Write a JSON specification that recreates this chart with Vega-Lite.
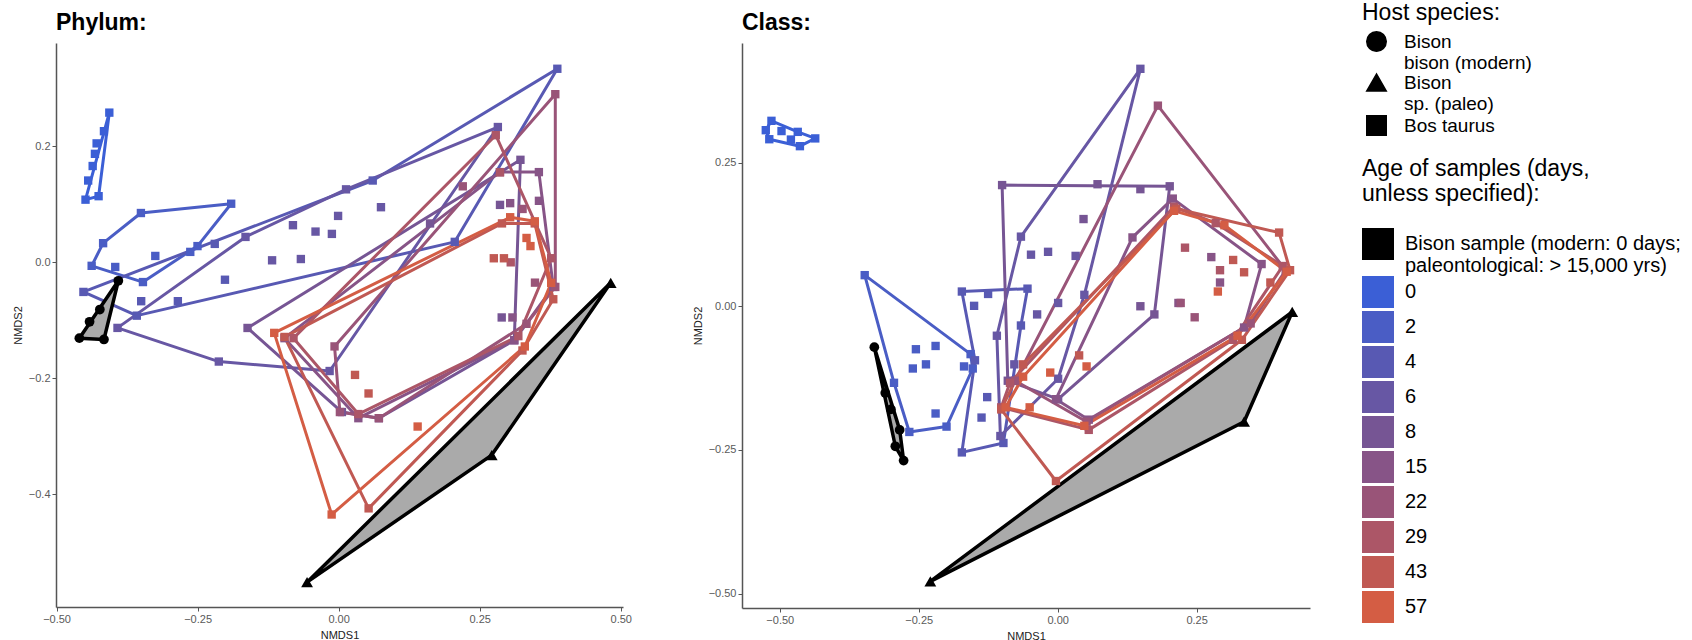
{
"$schema": "https://vega.github.io/schema/vega-lite/v6.json",
"padding": {"left": 12, "top": 2, "right": 2, "bottom": 5},
"background": "white",
"datasets": {
"pts": [
{"panel":"Phylum","age":"0","host":"Bos taurus","x":-0.4065,"y":0.258,"v":1},
{"panel":"Phylum","age":"0","host":"Bos taurus","x":-0.4487,"y":0.108,"v":2},
{"panel":"Phylum","age":"0","host":"Bos taurus","x":-0.4255,"y":0.114,"v":3},
{"panel":"Phylum","age":"0","host":"Bos taurus","x":-0.416,"y":0.226},
{"panel":"Phylum","age":"0","host":"Bos taurus","x":-0.429,"y":0.205},
{"panel":"Phylum","age":"0","host":"Bos taurus","x":-0.432,"y":0.187},
{"panel":"Phylum","age":"0","host":"Bos taurus","x":-0.436,"y":0.166},
{"panel":"Phylum","age":"0","host":"Bos taurus","x":-0.444,"y":0.141},
{"panel":"Phylum","age":"2","host":"Bos taurus","x":-0.1905,"y":0.101,"v":1},
{"panel":"Phylum","age":"2","host":"Bos taurus","x":-0.3505,"y":0.085,"v":2},
{"panel":"Phylum","age":"2","host":"Bos taurus","x":-0.4175,"y":0.033,"v":3},
{"panel":"Phylum","age":"2","host":"Bos taurus","x":-0.4378,"y":-0.006,"v":4},
{"panel":"Phylum","age":"2","host":"Bos taurus","x":-0.3469,"y":-0.034,"v":5},
{"panel":"Phylum","age":"2","host":"Bos taurus","x":-0.2502,"y":0.028,"v":6},
{"panel":"Phylum","age":"2","host":"Bos taurus","x":-0.325,"y":0.011},
{"panel":"Phylum","age":"2","host":"Bos taurus","x":-0.263,"y":0.018},
{"panel":"Phylum","age":"2","host":"Bos taurus","x":-0.396,"y":-0.008},
{"panel":"Phylum","age":"4","host":"Bos taurus","x":-0.4524,"y":-0.051,"v":1},
{"panel":"Phylum","age":"4","host":"Bos taurus","x":0.0604,"y":0.141,"v":2},
{"panel":"Phylum","age":"4","host":"Bos taurus","x":0.3876,"y":0.3336,"v":3},
{"panel":"Phylum","age":"4","host":"Bos taurus","x":0.2058,"y":0.0353,"v":4},
{"panel":"Phylum","age":"4","host":"Bos taurus","x":-0.3578,"y":-0.0919,"v":5},
{"panel":"Phylum","age":"4","host":"Bos taurus","x":-0.2196,"y":0.0318},
{"panel":"Phylum","age":"4","host":"Bos taurus","x":-0.2015,"y":-0.03},
{"panel":"Phylum","age":"4","host":"Bos taurus","x":-0.285,"y":-0.067},
{"panel":"Phylum","age":"4","host":"Bos taurus","x":-0.35,"y":-0.067},
{"panel":"Phylum","age":"6","host":"Bos taurus","x":-0.392,"y":-0.113,"v":1},
{"panel":"Phylum","age":"6","host":"Bos taurus","x":-0.1651,"y":0.0438,"v":2},
{"panel":"Phylum","age":"6","host":"Bos taurus","x":0.0131,"y":0.1258,"v":3},
{"panel":"Phylum","age":"6","host":"Bos taurus","x":0.2822,"y":0.2332,"v":4},
{"panel":"Phylum","age":"6","host":"Bos taurus","x":-0.016,"y":-0.1873,"v":5},
{"panel":"Phylum","age":"6","host":"Bos taurus","x":-0.2124,"y":-0.171,"v":6},
{"panel":"Phylum","age":"6","host":"Bos taurus","x":-0.118,"y":0.0035},
{"panel":"Phylum","age":"6","host":"Bos taurus","x":-0.067,"y":0.0057},
{"panel":"Phylum","age":"6","host":"Bos taurus","x":-0.041,"y":0.053},
{"panel":"Phylum","age":"6","host":"Bos taurus","x":-0.012,"y":0.049},
{"panel":"Phylum","age":"6","host":"Bos taurus","x":-0.001,"y":0.08},
{"panel":"Phylum","age":"6","host":"Bos taurus","x":0.075,"y":0.095},
{"panel":"Phylum","age":"6","host":"Bos taurus","x":-0.081,"y":0.064},
{"panel":"Phylum","age":"8","host":"Bos taurus","x":-0.1615,"y":-0.1131,"v":1},
{"panel":"Phylum","age":"8","host":"Bos taurus","x":0.3222,"y":0.1767,"v":2},
{"panel":"Phylum","age":"8","host":"Bos taurus","x":0.3113,"y":-0.1343,"v":3},
{"panel":"Phylum","age":"8","host":"Bos taurus","x":0.0713,"y":-0.2686,"v":4},
{"panel":"Phylum","age":"8","host":"Bos taurus","x":0.0058,"y":-0.258,"v":5},
{"panel":"Phylum","age":"8","host":"Bos taurus","x":0.162,"y":0.067},
{"panel":"Phylum","age":"8","host":"Bos taurus","x":0.286,"y":0.099},
{"panel":"Phylum","age":"8","host":"Bos taurus","x":0.289,"y":-0.095},
{"panel":"Phylum","age":"15","host":"Bos taurus","x":-0.096,"y":-0.1307,"v":1},
{"panel":"Phylum","age":"15","host":"Bos taurus","x":0.2858,"y":0.1555,"v":2},
{"panel":"Phylum","age":"15","host":"Bos taurus","x":0.3549,"y":0.1555,"v":3},
{"panel":"Phylum","age":"15","host":"Bos taurus","x":0.3804,"y":-0.0424,"v":4},
{"panel":"Phylum","age":"15","host":"Bos taurus","x":0.3113,"y":-0.1343,"v":5},
{"panel":"Phylum","age":"15","host":"Bos taurus","x":0.0349,"y":-0.2686,"v":6},
{"panel":"Phylum","age":"15","host":"Bos taurus","x":0.304,"y":0.102},
{"panel":"Phylum","age":"15","host":"Bos taurus","x":0.355,"y":0.106},
{"panel":"Phylum","age":"15","host":"Bos taurus","x":0.308,"y":-0.095},
{"panel":"Phylum","age":"22","host":"Bos taurus","x":-0.0073,"y":-0.1449,"v":1},
{"panel":"Phylum","age":"22","host":"Bos taurus","x":0.384,"y":0.2898,"v":2},
{"panel":"Phylum","age":"22","host":"Bos taurus","x":0.384,"y":-0.0424,"v":3},
{"panel":"Phylum","age":"22","host":"Bos taurus","x":0.333,"y":-0.106,"v":4},
{"panel":"Phylum","age":"22","host":"Bos taurus","x":0.0713,"y":-0.2686,"v":5},
{"panel":"Phylum","age":"22","host":"Bos taurus","x":0.0022,"y":-0.258,"v":6},
{"panel":"Phylum","age":"22","host":"Bos taurus","x":0.22,"y":0.131},
{"panel":"Phylum","age":"22","host":"Bos taurus","x":0.326,"y":0.092},
{"panel":"Phylum","age":"22","host":"Bos taurus","x":0.348,"y":-0.035},
{"panel":"Phylum","age":"29","host":"Bos taurus","x":-0.08,"y":-0.1307,"v":1},
{"panel":"Phylum","age":"29","host":"Bos taurus","x":0.2785,"y":0.2191,"v":2},
{"panel":"Phylum","age":"29","host":"Bos taurus","x":0.3767,"y":0.0071,"v":3},
{"panel":"Phylum","age":"29","host":"Bos taurus","x":0.3185,"y":-0.1272,"v":4},
{"panel":"Phylum","age":"29","host":"Bos taurus","x":0.0349,"y":-0.2615,"v":5},
{"panel":"Phylum","age":"29","host":"Bos taurus","x":0.286,"y":0.155},
{"panel":"Phylum","age":"29","host":"Bos taurus","x":0.305,"y":0.0},
{"panel":"Phylum","age":"43","host":"Bos taurus","x":-0.096,"y":-0.1286,"v":1},
{"panel":"Phylum","age":"43","host":"Bos taurus","x":0.2895,"y":0.0671,"v":2},
{"panel":"Phylum","age":"43","host":"Bos taurus","x":0.3476,"y":0.0671,"v":3},
{"panel":"Phylum","age":"43","host":"Bos taurus","x":0.3804,"y":-0.0636,"v":4},
{"panel":"Phylum","age":"43","host":"Bos taurus","x":0.3258,"y":-0.1519,"v":5},
{"panel":"Phylum","age":"43","host":"Bos taurus","x":0.0531,"y":-0.424,"v":6},
{"panel":"Phylum","age":"43","host":"Bos taurus","x":0.029,"y":-0.194},
{"panel":"Phylum","age":"43","host":"Bos taurus","x":0.053,"y":-0.226},
{"panel":"Phylum","age":"43","host":"Bos taurus","x":0.275,"y":0.007},
{"panel":"Phylum","age":"43","host":"Bos taurus","x":0.293,"y":0.007},
{"panel":"Phylum","age":"57","host":"Bos taurus","x":-0.1142,"y":-0.1216,"v":1},
{"panel":"Phylum","age":"57","host":"Bos taurus","x":0.304,"y":0.0777,"v":2},
{"panel":"Phylum","age":"57","host":"Bos taurus","x":0.3476,"y":0.0707,"v":3},
{"panel":"Phylum","age":"57","host":"Bos taurus","x":0.3767,"y":-0.0353,"v":4},
{"panel":"Phylum","age":"57","host":"Bos taurus","x":0.33,"y":-0.145,"v":5},
{"panel":"Phylum","age":"57","host":"Bos taurus","x":-0.0124,"y":-0.4346,"v":6},
{"panel":"Phylum","age":"57","host":"Bos taurus","x":0.14,"y":-0.283},
{"panel":"Phylum","age":"57","host":"Bos taurus","x":0.333,"y":0.042},
{"panel":"Phylum","age":"57","host":"Bos taurus","x":0.34,"y":0.028},
{"panel":"Phylum","age":"Bison sample","host":"Bison bison (modern)","x":-0.3905,"y":-0.0318,"v":1},
{"panel":"Phylum","age":"Bison sample","host":"Bison bison (modern)","x":-0.4596,"y":-0.1307,"v":2},
{"panel":"Phylum","age":"Bison sample","host":"Bison bison (modern)","x":-0.416,"y":-0.1329,"v":3},
{"panel":"Phylum","age":"Bison sample","host":"Bison bison (modern)","x":-0.4233,"y":-0.0813},
{"panel":"Phylum","age":"Bison sample","host":"Bison bison (modern)","x":-0.4415,"y":-0.1025},
{"panel":"Phylum","age":"Bison sample","host":"Bison sp. (paleo)","x":0.4822,"y":-0.0353,"v":1},
{"panel":"Phylum","age":"Bison sample","host":"Bison sp. (paleo)","x":0.2713,"y":-0.3322,"v":2},
{"panel":"Phylum","age":"Bison sample","host":"Bison sp. (paleo)","x":-0.056,"y":-0.5512,"v":3},
{"panel":"Class","age":"0","host":"Bos taurus","x":-0.515,"y":0.3226,"v":1},
{"panel":"Class","age":"0","host":"Bos taurus","x":-0.5252,"y":0.3063,"v":2},
{"panel":"Class","age":"0","host":"Bos taurus","x":-0.5189,"y":0.2906,"v":3},
{"panel":"Class","age":"0","host":"Bos taurus","x":-0.4638,"y":0.2785,"v":4},
{"panel":"Class","age":"0","host":"Bos taurus","x":-0.4362,"y":0.292,"v":5},
{"panel":"Class","age":"0","host":"Bos taurus","x":-0.4677,"y":0.3034,"v":6},
{"panel":"Class","age":"0","host":"Bos taurus","x":-0.4969,"y":0.3048},
{"panel":"Class","age":"0","host":"Bos taurus","x":-0.48,"y":0.29},
{"panel":"Class","age":"2","host":"Bos taurus","x":-0.3472,"y":0.0541,"v":1},
{"panel":"Class","age":"2","host":"Bos taurus","x":-0.2945,"y":-0.1332,"v":2},
{"panel":"Class","age":"2","host":"Bos taurus","x":-0.2669,"y":-0.2187,"v":3},
{"panel":"Class","age":"2","host":"Bos taurus","x":-0.2,"y":-0.2094,"v":4},
{"panel":"Class","age":"2","host":"Bos taurus","x":-0.1528,"y":-0.1083,"v":5},
{"panel":"Class","age":"2","host":"Bos taurus","x":-0.1567,"y":-0.0833,"v":6},
{"panel":"Class","age":"2","host":"Bos taurus","x":-0.2551,"y":-0.0748},
{"panel":"Class","age":"2","host":"Bos taurus","x":-0.2197,"y":-0.0691},
{"panel":"Class","age":"2","host":"Bos taurus","x":-0.2606,"y":-0.1083},
{"panel":"Class","age":"2","host":"Bos taurus","x":-0.237,"y":-0.1011},
{"panel":"Class","age":"2","host":"Bos taurus","x":-0.1685,"y":-0.1047},
{"panel":"Class","age":"2","host":"Bos taurus","x":-0.2197,"y":-0.1866},
{"panel":"Class","age":"4","host":"Bos taurus","x":-0.1724,"y":0.0256,"v":1},
{"panel":"Class","age":"4","host":"Bos taurus","x":-0.0543,"y":0.0306,"v":2},
{"panel":"Class","age":"4","host":"Bos taurus","x":-0.0661,"y":-0.0335,"v":3},
{"panel":"Class","age":"4","host":"Bos taurus","x":-0.0976,"y":-0.2379,"v":4},
{"panel":"Class","age":"4","host":"Bos taurus","x":-0.1724,"y":-0.2543,"v":5},
{"panel":"Class","age":"4","host":"Bos taurus","x":-0.1488,"y":-0.094,"v":6},
{"panel":"Class","age":"4","host":"Bos taurus","x":-0.1504,"y":0.0007},
{"panel":"Class","age":"4","host":"Bos taurus","x":-0.1252,"y":0.0214},
{"panel":"Class","age":"4","host":"Bos taurus","x":-0.1268,"y":-0.1581},
{"panel":"Class","age":"4","host":"Bos taurus","x":-0.137,"y":-0.1937},
{"panel":"Class","age":"6","host":"Bos taurus","x":0.1488,"y":0.4131,"v":1},
{"panel":"Class","age":"6","host":"Bos taurus","x":-0.0661,"y":0.1211,"v":2},
{"panel":"Class","age":"6","host":"Bos taurus","x":-0.1094,"y":-0.0513,"v":3},
{"panel":"Class","age":"6","host":"Bos taurus","x":-0.1031,"y":-0.2258,"v":4},
{"panel":"Class","age":"6","host":"Bos taurus","x":0.0008,"y":-0.1261,"v":5},
{"panel":"Class","age":"6","host":"Bos taurus","x":0.048,"y":0.0199,"v":6},
{"panel":"Class","age":"6","host":"Bos taurus","x":-0.048,"y":0.0897},
{"panel":"Class","age":"6","host":"Bos taurus","x":-0.0173,"y":0.0947},
{"panel":"Class","age":"6","host":"Bos taurus","x":0.0323,"y":0.0876},
{"panel":"Class","age":"6","host":"Bos taurus","x":-0.037,"y":-0.0142},
{"panel":"Class","age":"6","host":"Bos taurus","x":0.0008,"y":0.0057},
{"panel":"Class","age":"6","host":"Bos taurus","x":-0.078,"y":-0.1011},
{"panel":"Class","age":"8","host":"Bos taurus","x":-0.1,"y":0.2108,"v":1},
{"panel":"Class","age":"8","host":"Bos taurus","x":0.2016,"y":0.2087,"v":2},
{"panel":"Class","age":"8","host":"Bos taurus","x":0.174,"y":-0.0142,"v":3},
{"panel":"Class","age":"8","host":"Bos taurus","x":0.0008,"y":-0.1617,"v":4},
{"panel":"Class","age":"8","host":"Bos taurus","x":-0.0898,"y":-0.1296,"v":5},
{"panel":"Class","age":"8","host":"Bos taurus","x":0.0717,"y":0.2123},
{"panel":"Class","age":"8","host":"Bos taurus","x":0.1488,"y":0.2037},
{"panel":"Class","age":"8","host":"Bos taurus","x":0.0465,"y":0.1517},
{"panel":"Class","age":"8","host":"Bos taurus","x":0.1488,"y":0.0},
{"panel":"Class","age":"15","host":"Bos taurus","x":0.1346,"y":0.1197,"v":1},
{"panel":"Class","age":"15","host":"Bos taurus","x":0.2071,"y":0.1873,"v":2},
{"panel":"Class","age":"15","host":"Bos taurus","x":0.3669,"y":0.0734,"v":3},
{"panel":"Class","age":"15","host":"Bos taurus","x":0.3354,"y":-0.037,"v":4},
{"panel":"Class","age":"15","host":"Bos taurus","x":0.0559,"y":-0.1973,"v":5},
{"panel":"Class","age":"15","host":"Bos taurus","x":-0.0031,"y":-0.1617,"v":6},
{"panel":"Class","age":"15","host":"Bos taurus","x":0.2764,"y":0.0855},
{"panel":"Class","age":"15","host":"Bos taurus","x":0.2921,"y":0.0413},
{"panel":"Class","age":"15","host":"Bos taurus","x":0.2173,"y":0.0057},
{"panel":"Class","age":"22","host":"Bos taurus","x":0.1803,"y":0.349,"v":1},
{"panel":"Class","age":"22","host":"Bos taurus","x":0.4102,"y":0.0627,"v":2},
{"panel":"Class","age":"22","host":"Bos taurus","x":0.3472,"y":-0.0299,"v":3},
{"panel":"Class","age":"22","host":"Bos taurus","x":0.052,"y":-0.2009,"v":4},
{"panel":"Class","age":"22","host":"Bos taurus","x":-0.0764,"y":-0.1296,"v":5},
{"panel":"Class","age":"22","host":"Bos taurus","x":0.2465,"y":-0.0192},
{"panel":"Class","age":"22","host":"Bos taurus","x":0.2213,"y":0.0057},
{"panel":"Class","age":"29","host":"Bos taurus","x":0.2094,"y":0.1731,"v":1},
{"panel":"Class","age":"29","host":"Bos taurus","x":0.2843,"y":0.1446,"v":2},
{"panel":"Class","age":"29","host":"Bos taurus","x":0.405,"y":0.07,"v":3},
{"panel":"Class","age":"29","host":"Bos taurus","x":0.3157,"y":-0.0584,"v":4},
{"panel":"Class","age":"29","host":"Bos taurus","x":0.0559,"y":-0.2151,"v":5},
{"panel":"Class","age":"29","host":"Bos taurus","x":-0.1016,"y":-0.1759,"v":6},
{"panel":"Class","age":"29","host":"Bos taurus","x":-0.0858,"y":-0.1332,"v":7},
{"panel":"Class","age":"29","host":"Bos taurus","x":0.2291,"y":0.1019},
{"panel":"Class","age":"29","host":"Bos taurus","x":0.2921,"y":0.0627},
{"panel":"Class","age":"43","host":"Bos taurus","x":0.2134,"y":0.1695,"v":1},
{"panel":"Class","age":"43","host":"Bos taurus","x":0.3984,"y":0.1282,"v":2},
{"panel":"Class","age":"43","host":"Bos taurus","x":0.4181,"y":0.0627,"v":3},
{"panel":"Class","age":"43","host":"Bos taurus","x":0.3315,"y":-0.0584,"v":4},
{"panel":"Class","age":"43","host":"Bos taurus","x":-0.0031,"y":-0.3041,"v":5},
{"panel":"Class","age":"43","host":"Bos taurus","x":-0.1016,"y":-0.1795,"v":6},
{"panel":"Class","age":"43","host":"Bos taurus","x":-0.0622,"y":-0.1011,"v":7},
{"panel":"Class","age":"43","host":"Bos taurus","x":0.3157,"y":0.0805},
{"panel":"Class","age":"43","host":"Bos taurus","x":0.3354,"y":0.0591},
{"panel":"Class","age":"43","host":"Bos taurus","x":0.3827,"y":0.0413},
{"panel":"Class","age":"43","host":"Bos taurus","x":0.0386,"y":-0.0855},
{"panel":"Class","age":"57","host":"Bos taurus","x":0.2094,"y":0.166,"v":1},
{"panel":"Class","age":"57","host":"Bos taurus","x":0.3,"y":0.141,"v":2},
{"panel":"Class","age":"57","host":"Bos taurus","x":0.412,"y":0.06,"v":3},
{"panel":"Class","age":"57","host":"Bos taurus","x":0.3236,"y":-0.0513,"v":4},
{"panel":"Class","age":"57","host":"Bos taurus","x":0.048,"y":-0.208,"v":5},
{"panel":"Class","age":"57","host":"Bos taurus","x":-0.0937,"y":-0.1759,"v":6},
{"panel":"Class","age":"57","host":"Bos taurus","x":-0.0622,"y":-0.1225,"v":7},
{"panel":"Class","age":"57","host":"Bos taurus","x":-0.0134,"y":-0.1154},
{"panel":"Class","age":"57","host":"Bos taurus","x":0.052,"y":-0.1047},
{"panel":"Class","age":"57","host":"Bos taurus","x":0.2882,"y":0.0256},
{"panel":"Class","age":"57","host":"Bos taurus","x":-0.0504,"y":-0.1759},
{"panel":"Class","age":"Bison sample","host":"Bison bison (modern)","x":-0.3299,"y":-0.0712,"v":1},
{"panel":"Class","age":"Bison sample","host":"Bison bison (modern)","x":-0.2843,"y":-0.2151,"v":2},
{"panel":"Class","age":"Bison sample","host":"Bison bison (modern)","x":-0.2772,"y":-0.2685,"v":3},
{"panel":"Class","age":"Bison sample","host":"Bison bison (modern)","x":-0.2921,"y":-0.2436,"v":4},
{"panel":"Class","age":"Bison sample","host":"Bison bison (modern)","x":-0.3102,"y":-0.151},
{"panel":"Class","age":"Bison sample","host":"Bison bison (modern)","x":-0.3,"y":-0.1795},
{"panel":"Class","age":"Bison sample","host":"Bison sp. (paleo)","x":0.422,"y":-0.01,"v":1},
{"panel":"Class","age":"Bison sample","host":"Bison sp. (paleo)","x":0.3354,"y":-0.2009,"v":2},
{"panel":"Class","age":"Bison sample","host":"Bison sp. (paleo)","x":-0.2291,"y":-0.4786,"v":3}
]
},
"data": {"name": "pts"},
"resolve": {"scale": {"x": "independent", "y": "independent", "color": "shared", "shape": "shared"}},
"spacing": 60,
"hconcat": [
{
"title": {"text": "Phylum:"},
"width": 567, "height": 564,
"transform": [{"filter": "datum.panel == 'Phylum'"}],
"encoding": {
"x": {"field": "x", "type": "quantitative", "scale": {"domain": [-0.501, 0.504], "nice": false, "zero": false}, "axis": {"title": "NMDS1", "values": [-0.5, -0.25, 0, 0.25, 0.5], "format": ".2f"}},
"y": {"field": "y", "type": "quantitative", "scale": {"domain": [-0.594, 0.378], "nice": false, "zero": false}, "axis": {"title": "NMDS2", "values": [-0.4, -0.2, 0, 0.2], "format": ".1f"}}
},
"layer": [
{"transform": [{"filter": "isValid(datum.v) && datum.age != 'Bison sample'"}],
 "mark": {"type": "line", "interpolate": "linear-closed", "strokeWidth": 3, "strokeJoin": "round"},
 "encoding": {"color": {"field": "age", "type": "nominal", "scale": {"domain": ["Bison sample","0","2","4","6","8","15","22","29","43","57"], "range": ["#000000","#3b5fd6","#4a5dc5","#5859b3","#6757a4","#765594","#875487","#995478","#ac5667","#c05953","#d45d44"]}}, "detail": {"field": "host"}, "order": {"field": "v", "type": "quantitative"}}},
{"transform": [{"filter": "isValid(datum.v) && datum.age == 'Bison sample'"}],
 "mark": {"type": "line", "interpolate": "linear-closed", "strokeWidth": 3.5, "stroke": "#000000", "fill": "#aaaaaa", "strokeJoin": "round"},
 "encoding": {"detail": {"field": "host"}, "order": {"field": "v", "type": "quantitative"}}},
{"mark": {"type": "point", "filled": true, "opacity": 1},
 "encoding": {
 "color": {"field": "age", "type": "nominal",
   "legend": {"title": ["Age of samples (days,", "unless specified):"], "orient": "none", "legendX": 1306, "legendY": 115, "gridAlign": "none", "symbolType": "square", "symbolSize": 900, "symbolStrokeColor": "#9e9e9e", "symbolStrokeWidth": 2, "symbolOpacity": 1, "labelFontSize": 20, "titleFontSize": 23, "titleFontWeight": "normal", "titleLimit": 400, "labelLimit": 400, "labelOffset": 11, "rowPadding": -3, "titlePadding": 22,
   "labelExpr": "datum.label == 'Bison sample' ? ['Bison sample (modern: 0 days;', 'paleontological: > 15,000 yrs)'] : datum.label"}},
 "shape": {"field": "host", "type": "nominal", "scale": {"domain": ["Bison bison (modern)", "Bison sp. (paleo)", "Bos taurus"], "range": ["circle", "triangle-up", "square"]},
   "legend": {"title": "Host species:", "orient": "none", "legendX": 1306, "legendY": -41, "gridAlign": "none", "symbolFillColor": "#000000", "symbolStrokeColor": "#000000", "symbolSize": 380, "symbolOffset": 4, "labelFontSize": 19, "titleFontSize": 23, "titleFontWeight": "normal", "labelLimit": 400, "labelOffset": 17, "rowPadding": -2, "titlePadding": 6,
   "labelExpr": "datum.label == 'Bos taurus' ? datum.label : datum.label == 'Bison bison (modern)' ? ['Bison', 'bison (modern)'] : ['Bison', 'sp. (paleo)']"}},
 "size": {"condition": [{"test": "datum.host == 'Bos taurus'", "value": 70}, {"test": "datum.host == 'Bison sp. (paleo)'", "value": 140}], "value": 95}
 }}
]
},
{
"title": {"text": "Class:"},
"width": 568, "height": 565,
"transform": [{"filter": "datum.panel == 'Class'"}],
"encoding": {
"x": {"field": "x", "type": "quantitative", "scale": {"domain": [-0.568, 0.454], "nice": false, "zero": false}, "axis": {"title": "NMDS1", "values": [-0.5, -0.25, 0, 0.25], "format": ".2f"}},
"y": {"field": "y", "type": "quantitative", "scale": {"domain": [-0.525, 0.458], "nice": false, "zero": false}, "axis": {"title": "NMDS2", "values": [-0.5, -0.25, 0, 0.25], "format": ".2f"}}
},
"layer": [
{"transform": [{"filter": "isValid(datum.v) && datum.age != 'Bison sample'"}],
 "mark": {"type": "line", "interpolate": "linear-closed", "strokeWidth": 3, "strokeJoin": "round"},
 "encoding": {"color": {"field": "age", "type": "nominal"}, "detail": {"field": "host"}, "order": {"field": "v", "type": "quantitative"}}},
{"transform": [{"filter": "isValid(datum.v) && datum.age == 'Bison sample'"}],
 "mark": {"type": "line", "interpolate": "linear-closed", "strokeWidth": 3.5, "stroke": "#000000", "fill": "#aaaaaa", "strokeJoin": "round"},
 "encoding": {"detail": {"field": "host"}, "order": {"field": "v", "type": "quantitative"}}},
{"mark": {"type": "point", "filled": true, "opacity": 1},
 "encoding": {
 "color": {"field": "age", "type": "nominal"},
 "shape": {"field": "host", "type": "nominal"},
 "size": {"condition": [{"test": "datum.host == 'Bos taurus'", "value": 70}, {"test": "datum.host == 'Bison sp. (paleo)'", "value": 140}], "value": 95}
 }}
]
}
],
"config": {
"font": "Liberation Sans",
"view": {"stroke": null},
"title": {"anchor": "start", "frame": "group", "fontSize": 23, "fontWeight": "bold", "color": "#000000", "offset": 8},
"axis": {"grid": false, "domainColor": "#555555", "domainWidth": 1.5, "tickColor": "#555555", "tickSize": 4, "labelColor": "#5a5a5a", "labelFontSize": 11, "labelFlush": false, "labelOverlap": false, "titleFontSize": 11, "titleFontWeight": "normal", "titleColor": "#222222", "titlePadding": 5},
"legend": {"labelColor": "#000000", "titleColor": "#000000"}
}
}
